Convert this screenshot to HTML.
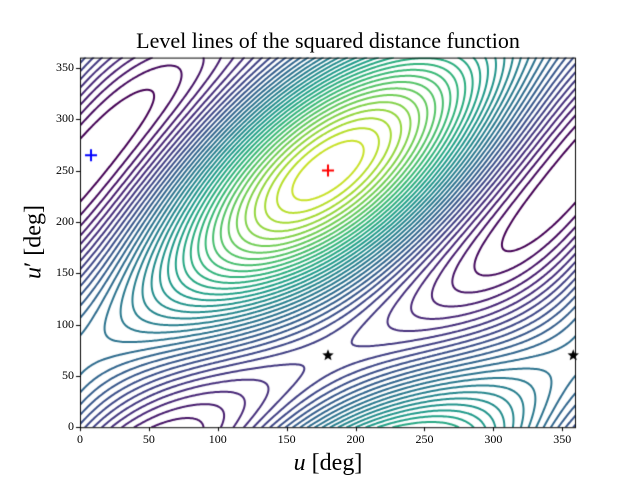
<!DOCTYPE html>
<html><head><meta charset="utf-8"><style>
html,body{margin:0;padding:0;background:#fff;}
#w{position:relative;width:640px;height:480px;font-family:"Liberation Serif",serif;color:#000;}
canvas{position:absolute;left:0;top:0;}
.t{position:absolute;font-size:12px;white-space:nowrap;}
</style></head><body><div id="w">
<canvas id="c" width="640" height="480"></canvas>
<div style="position:absolute;left:0;width:656px;top:28px;text-align:center;font-size:22px;">Level lines of the squared distance function</div>
<div style="position:absolute;left:0;width:656px;top:450px;text-align:center;font-size:24px;"><i>u</i> [deg]</div>
<div style="position:absolute;left:34px;top:242px;font-size:24px;transform:translate(-50%,-50%) rotate(-90deg);white-space:nowrap;"><i>u</i>′ [deg]</div>
<div id="lab"></div>
</div>
<script>
const L=80,R=576,T=57.6,B=427.2;
const X=u=>L+(R-L)*u/360, Y=v=>B-(B-T)*v/360;
const c=document.getElementById('c').getContext('2d');
const d=Math.PI/180;
const a=3,b=2,cc=1;
function f(u,v){return a*Math.cos((u-v+70)*d)+b*Math.cos((u-180)*d)+cc*Math.cos((v-250)*d);}
const vir=[[68,1,84],[72,40,120],[62,74,137],[49,104,142],[38,130,142],[31,158,137],[53,183,121],[109,205,89],[180,222,44],[253,231,37]];
function col(t){t=Math.max(0,Math.min(1,t))*(vir.length-1);const i=Math.min(vir.length-2,Math.floor(t)),r=t-i;const p=vir[i],q=vir[i+1];return `rgb(${p.map((x,k)=>Math.round(x+(q[k]-x)*r)).join(',')})`;}
const N=300,M=300;const g=[];let mn=1e9,mx=-1e9;
for(let i=0;i<=N;i++){g[i]=[];for(let j=0;j<=M;j++){const v=f(360*i/N,360*j/M);g[i][j]=v;mn=Math.min(mn,v);mx=Math.max(mx,v);}}
c.save();c.beginPath();c.rect(L,T,R-L,B-T);c.clip();
c.lineWidth=2;c.lineCap='round';
const NL=36;
for(let k=1;k<NL;k++){
 const lv=mn+(mx-mn)*k/NL;c.strokeStyle=col(0.92*(k-1)/(NL-2));c.beginPath();
 for(let i=0;i<N;i++)for(let j=0;j<M;j++){
  const p=[[i,j,g[i][j]],[i+1,j,g[i+1][j]],[i+1,j+1,g[i+1][j+1]],[i,j+1,g[i][j+1]]];
  const pts=[];
  for(let e=0;e<4;e++){const A=p[e],Bq=p[(e+1)%4];if((A[2]<lv)!==(Bq[2]<lv)){const t=(lv-A[2])/(Bq[2]-A[2]);pts.push([A[0]+(Bq[0]-A[0])*t,A[1]+(Bq[1]-A[1])*t]);}}
  for(let s=0;s+1<pts.length;s+=2){c.moveTo(X(360*pts[s][0]/N),Y(360*pts[s][1]/M));c.lineTo(X(360*pts[s+1][0]/N),Y(360*pts[s+1][1]/M));}
 }
 c.stroke();
}
c.restore();
function plus(u,v,color){c.strokeStyle=color;c.lineWidth=2;c.beginPath();c.moveTo(X(u)-6,Y(v));c.lineTo(X(u)+6,Y(v));c.moveTo(X(u),Y(v)-6);c.lineTo(X(u),Y(v)+6);c.stroke();}
function star(u,v){c.fillStyle='#000';c.beginPath();for(let k=0;k<10;k++){const r=k%2?2.6:6,an=-Math.PI/2+k*Math.PI/5;c.lineTo(X(u)+r*Math.cos(an),Y(v)+r*Math.sin(an));}c.closePath();c.fill();}
plus(8,265,'#0000ff');plus(180,250,'#ff0000');star(180,70);star(358,70);
c.strokeStyle='#000';c.lineWidth=1;c.strokeRect(L+.5,T+.5,R-L-1,B-T);
let h='';
for(let v=0;v<=350;v+=50){const x=Math.round(X(v))+.5;c.beginPath();c.moveTo(x,B);c.lineTo(x,B+4);c.stroke();h+=`<div class="t" style="left:${X(v)-15}px;width:30px;text-align:center;top:${B+5}px">${v}</div>`;
 const y=Math.round(Y(v))+.5;c.beginPath();c.moveTo(L,y);c.lineTo(L-4,y);c.stroke();h+=`<div class="t" style="left:${L-42}px;width:36px;text-align:right;top:${Y(v)-8}px">${v}</div>`;}
document.getElementById('lab').innerHTML=h;
</script></body></html>
